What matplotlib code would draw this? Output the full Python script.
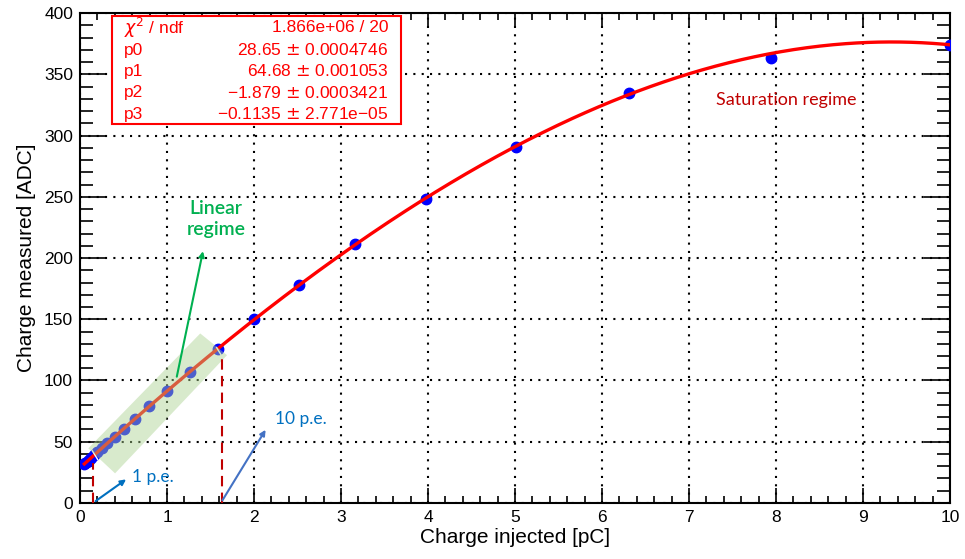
import numpy as np
import matplotlib
matplotlib.use("Agg")
import matplotlib.pyplot as plt
from matplotlib.patches import Polygon, Rectangle
from matplotlib.ticker import MultipleLocator

plt.rcParams['font.family'] = ['Liberation Sans', 'DejaVu Sans']

# Data
charge_injected = [0.050, 0.063, 0.079, 0.100, 0.126, 0.158, 0.200, 0.251, 0.316, 0.398,
                   0.501, 0.631, 0.794, 1.000, 1.259, 1.585, 2.000, 2.512, 3.162, 3.981,
                   5.012, 6.310, 7.943, 10.000]
charge_measured = [31.9, 32.7, 33.7, 35.0, 36.7, 38.8, 41.5, 44.8, 48.9, 54.0,
                   60.5, 68.7, 79.0, 91.5, 106.8, 125.5, 150.0, 178.3, 211.3, 248.0,
                   290.5, 335.0, 363.5, 374.2]

fit_params = [28.65, 64.68, -1.879, -0.1135]
stat_labels = [r"$\chi^2$ / ndf", "p0", "p1", "p2", "p3"]
stat_values = ["1.866e+06 / 20", "28.65 $\\pm$ 0.0004746", "64.68 $\\pm$ 0.001053",
               "\u22121.879 $\\pm$ 0.0003421", "\u22120.1135 $\\pm$ 2.771e\u221205"]

linear_box = [(0.096, 44.6), (1.382, 138.4), (1.69, 120.7), (0.403, 24.2)]

fig = plt.figure(figsize=(9.65, 5.59), dpi=100)
ax = fig.add_axes([0.0829, 0.1002, 0.9016, 0.8765])

xf = np.linspace(0.05, 10, 400)
yf = fit_params[0] + fit_params[1]*xf + fit_params[2]*xf**2 + fit_params[3]*xf**3

ax.plot(charge_injected, charge_measured, 'o', color='#0000ff', ms=7.5, zorder=3)
ax.plot(xf, yf, '-', color='#ff0000', lw=2.4, zorder=4)

# small white marks at box ends
for mx, my in [(0.173, 39.0), (1.60, 123.4)]:
    ax.plot([mx - 0.03, mx + 0.03], [my + 3.5, my - 3.5], color='white', lw=1.0, zorder=4.5)

# green translucent linear-regime box
ax.add_patch(Polygon(linear_box, closed=True, facecolor='#a9d18e', alpha=0.45,
                     edgecolor='none', zorder=5))

# dashed vertical lines
ax.plot([0.145, 0.145], [0, 33], ls=(0, (5, 3)), color='#c00000', lw=1.5, zorder=6)
ax.plot([1.632, 1.632], [0, 122], ls=(0, (5, 3)), color='#c00000', lw=1.5, zorder=6)

# arrows
ax.annotate("", xy=(0.556, 20.6), xytext=(0.153, 0.2),
            arrowprops=dict(arrowstyle='-|>', color='#0070c0', lw=1.5, mutation_scale=8),
            zorder=7)
ax.annotate("", xy=(2.15, 61.7), xytext=(1.62, 0.2),
            arrowprops=dict(arrowstyle='-|>', color='#4472c4', lw=1.5, mutation_scale=8),
            zorder=7)
ax.annotate("", xy=(1.42, 207.8), xytext=(1.106, 100.9),
            arrowprops=dict(arrowstyle='-|>', color='#00b050', lw=1.5, mutation_scale=8),
            zorder=7)

txtfont = ['Lato', 'DejaVu Sans']
ax.text(0.60, 21.5, "1 p.e.", color='#0070c0', fontsize=12.5, family=txtfont,
        ha='left', va='center', zorder=8)
ax.text(2.24, 68.5, "10 p.e.", color='#0070c0', fontsize=12.5, family=txtfont,
        ha='left', va='center', zorder=8)
ax.text(1.567, 232, "Linear\nregime", color='#00b050', fontsize=14, family=txtfont,
        ha='center', va='center', fontweight='semibold', linespacing=1.25, zorder=8)
ax.text(8.12, 329, "Saturation regime", color='#c00000', fontsize=13, family=txtfont,
        ha='center', va='center', zorder=8)

# axes
ax.set_xlim(0, 10)
ax.set_ylim(0, 400)
ax.xaxis.set_major_locator(MultipleLocator(1))
ax.xaxis.set_minor_locator(MultipleLocator(0.2))
ax.yaxis.set_major_locator(MultipleLocator(50))
ax.yaxis.set_minor_locator(MultipleLocator(10))
ax.tick_params(axis='both', which='both', direction='in', top=True, right=True,
               labelsize=12.5, width=1.2, color='black')
ax.tick_params(axis='x', which='major', length=10.5, pad=5)
ax.tick_params(axis='x', which='minor', length=5.3)
ax.tick_params(axis='y', which='major', length=18.5, pad=5)
ax.tick_params(axis='y', which='minor', length=9.3)
for s in ax.spines.values():
    s.set_linewidth(1.5)
ax.grid(True, which='major', color='black', ls=(0, (1, 3)), lw=1.5)
ax.set_axisbelow(True)
ax.set_xlabel("Charge injected [pC]", fontsize=15, labelpad=2)
ax.set_ylabel("Charge measured [ADC]", fontsize=15, labelpad=6)

# stats box (figure pixel coordinates -> fraction)
W, H = 965, 559
bx0, bx1, by0, by1 = 111.5, 401.5, 16, 124
fig.patches.append(Rectangle((bx0/W, 1-by1/H), (bx1-bx0)/W, (by1-by0)/H,
                             transform=fig.transFigure, facecolor='white',
                             edgecolor='#ff0000', lw=1.5, zorder=10))
rows_y = [28, 50, 71, 93, 114]
for lab, val, ry in zip(stat_labels, stat_values, rows_y):
    fig.text(124/W, 1-ry/H, lab, color='#ff0000', fontsize=12.5, ha='left', va='center', zorder=11)
    fig.text(388/W, 1-ry/H, val, color='#ff0000', fontsize=12.5, ha='right', va='center', zorder=11)

fig.savefig("out.png", dpi=100)
